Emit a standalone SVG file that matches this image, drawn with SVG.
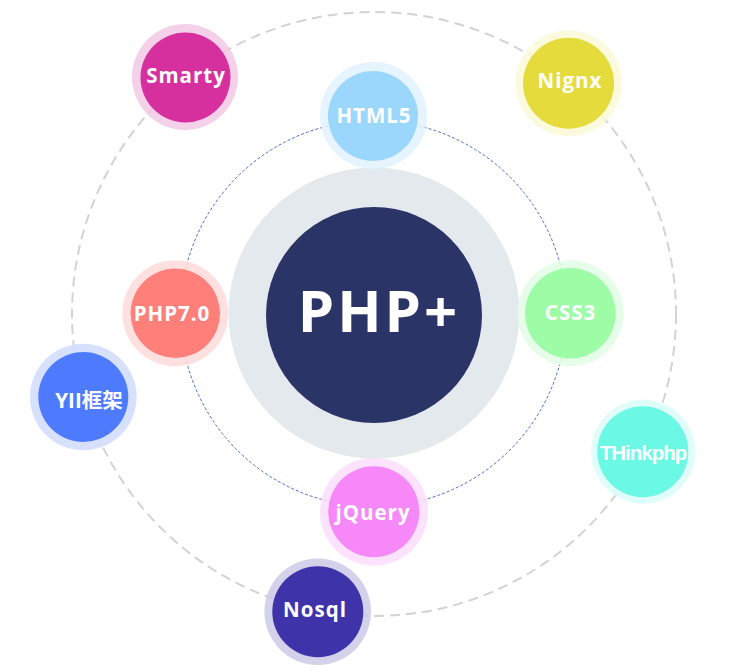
<svg xmlns="http://www.w3.org/2000/svg" width="750" height="671" viewBox="0 0 750 671">
<style>
.lbl{font-family:"Open Sans","Liberation Sans","Noto Sans CJK SC",sans-serif;font-weight:bold;font-size:20.5px;fill:#fff;text-anchor:middle;letter-spacing:1px}
.halo{opacity:0.85}
.core{opacity:0.95}
</style>
<rect width="750" height="671" fill="#fff"/>
<g id="connectors" fill="none">
<circle cx="374" cy="314" r="302" stroke="#D3D3D3" stroke-width="2" stroke-dasharray="10 6"/>
<circle cx="373.5" cy="313.5" r="193" stroke="#4A6BC0" stroke-width="1" stroke-dasharray="3 2"/>
</g>
<g id="center">
<circle cx="374" cy="313" r="145.5" fill="#E3E9ED"/>
<circle cx="374" cy="315" r="108" fill="#2B3466"/>
<text x="379" y="332" font-family="'Open Sans','Liberation Sans',sans-serif" font-weight="bold" font-size="58" fill="#fff" text-anchor="middle" letter-spacing="3">PHP+</text>
</g>
<g id="smarty">
<circle class="halo" cx="185" cy="77" r="53" fill="#F3C8E5"/>
<circle class="core" cx="185.5" cy="77.5" r="45" fill="#D4279A"/>
<text class="lbl" x="186" y="83">Smarty</text>
</g>
<g id="html5">
<circle class="halo" cx="373.5" cy="115.5" r="53.5" fill="#E0F2FE"/>
<circle class="core" cx="373" cy="116" r="45" fill="#97D5FD"/>
<text class="lbl" x="374" y="123">HTML5</text>
</g>
<g id="nignx">
<circle class="halo" cx="568.7" cy="83.3" r="53" fill="#FBF9D6"/>
<circle class="core" cx="568.5" cy="83.3" r="45.5" fill="#E5D934"/>
<text class="lbl" x="570" y="88">Nignx</text>
</g>
<g id="php70">
<circle class="halo" cx="175.3" cy="313.3" r="53" fill="#FFDADA"/>
<circle class="core" cx="175.3" cy="313.3" r="44.7" fill="#FF7A75"/>
<text class="lbl" x="172" y="320.5">PHP7.0</text>
</g>
<g id="css3">
<circle class="halo" cx="570.5" cy="313.3" r="53" fill="#E2FDE5"/>
<circle class="core" cx="570.3" cy="313.3" r="45.3" fill="#9AFCA3"/>
<text class="lbl" x="570.5" y="320">CSS3</text>
</g>
<g id="yii">
<circle class="halo" cx="83.3" cy="397" r="53.3" fill="#D0DCFE"/>
<circle class="core" cx="83.3" cy="397" r="45" fill="#4775FD"/>
<text class="lbl" x="89" y="408" style="letter-spacing:0">YII框架</text>
</g>
<g id="thinkphp">
<circle class="halo" cx="643.3" cy="451.7" r="52" fill="#D9FDF8"/>
<circle class="core" cx="642.8" cy="451.7" r="45.5" fill="#64F8E3"/>
<text class="lbl" x="643" y="460" style="font-family:'Liberation Sans',Arial,sans-serif;letter-spacing:-1px">THinkphp</text>
</g>
<g id="jquery">
<circle class="halo" cx="374" cy="511.7" r="54" fill="#FDDDFD"/>
<circle class="core" cx="373.8" cy="511.7" r="45.5" fill="#F583F8"/>
<text class="lbl" x="373" y="520">jQuery</text>
</g>
<g id="nosql">
<circle class="halo" cx="317.7" cy="611.7" r="53.3" fill="#CDCAE7"/>
<circle class="core" cx="317.8" cy="611.7" r="45.5" fill="#362AA5"/>
<text class="lbl" x="315" y="617">Nosql</text>
</g>
</svg>
